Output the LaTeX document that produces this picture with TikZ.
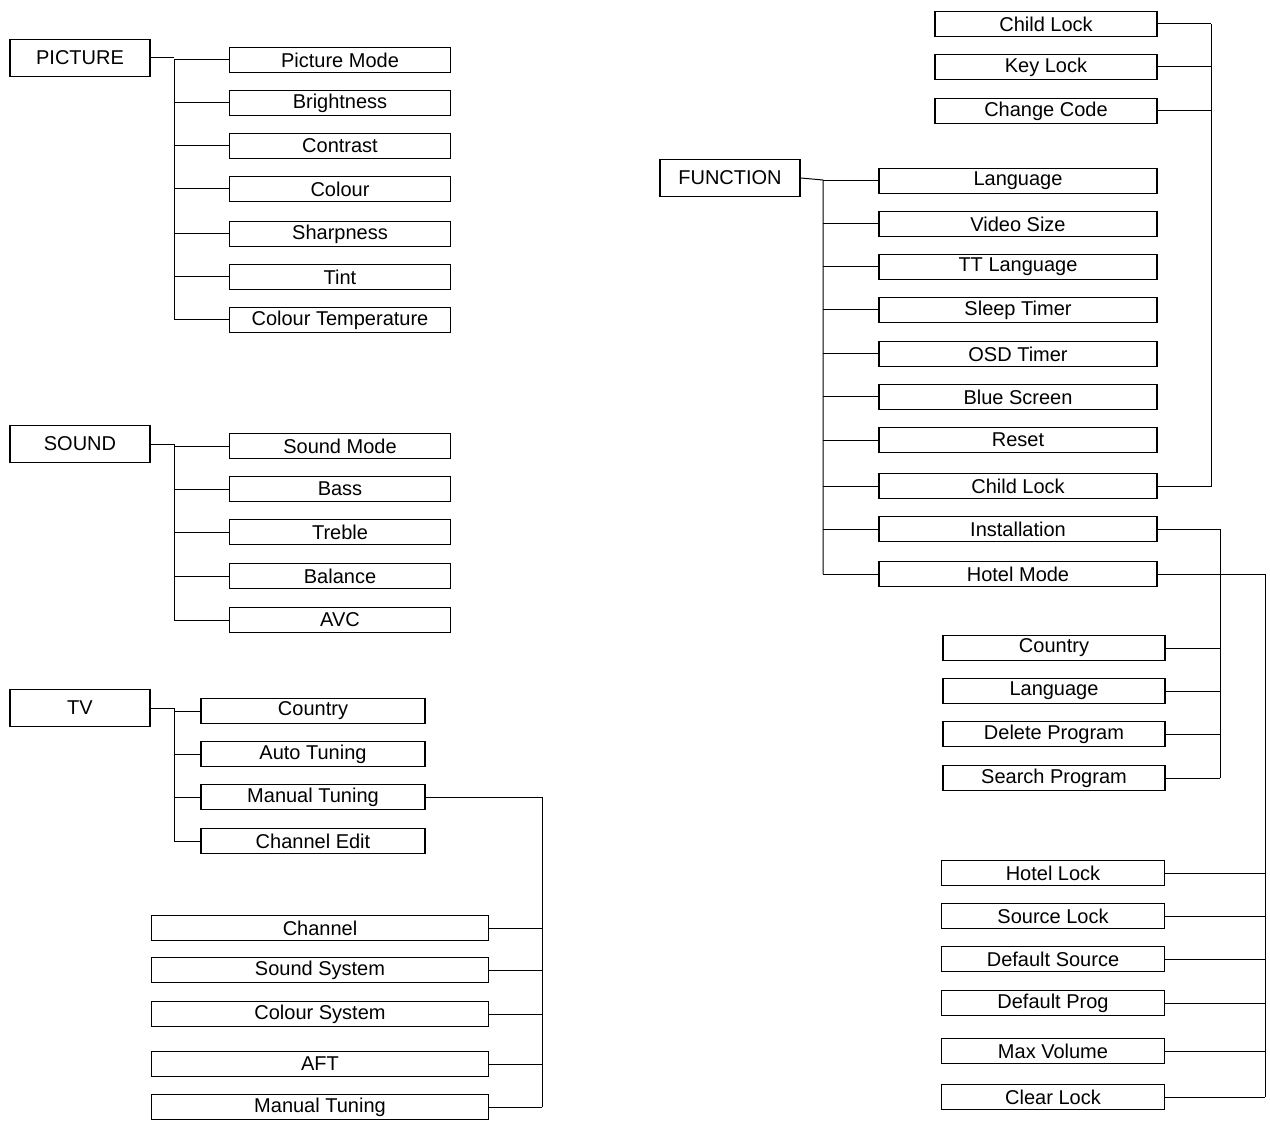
\documentclass[tikz,border=0pt]{standalone}
\usepackage{fontspec}
\setmainfont{Liberation Sans}
\begin{document}
\begin{tikzpicture}[x=1pt,y=-1pt,
  bx/.style={draw,line width=1.8pt,minimum height=25pt,inner sep=0pt,font=\fontsize{20}{22}\selectfont},
  hd/.style={draw,line width=1.6pt,minimum height=37pt,minimum width=140pt,inner sep=0pt,font=\fontsize{20}{22}\selectfont},
  ln/.style={line width=1pt}]
\useasboundingbox (0,0) rectangle (1270,1123);
% PICTURE
\node[hd] (pic) at (80,58) {PICTURE};
\foreach \t/\y [count=\i] in {Picture Mode/60,Brightness/103,Contrast/146,Colour/189,Sharpness/234,Tint/277,Colour Temperature/320}{
  \node[bx,minimum width=221pt] (p\i) at (340,\y) {\t};
  \draw[ln] (174,\y) -- (p\i.west);}
\draw[ln] (pic.east) -- (174,58) (174,60) -- (174,320);
% SOUND
\node[hd] (snd) at (80,444) {SOUND};
\foreach \t/\y [count=\i] in {Sound Mode/446,Bass/489,Treble/532,Balance/576,AVC/620}{
  \node[bx,minimum width=221pt] (s\i) at (340,\y) {\t};
  \draw[ln] (174,\y) -- (s\i.west);}
\draw[ln] (snd.east) -- (174,444) (174,444) -- (174,620);
% TV
\node[hd] (tv) at (80,708) {TV};
\foreach \t/\y [count=\i] in {Country/711,Auto Tuning/754,Manual Tuning/797,Channel Edit/841}{
  \node[bx,minimum width=224pt] (t\i) at (313,\y) {\t};
  \draw[ln] (174,\y) -- (t\i.west);}
\draw[ln] (tv.east) -- (174,708) (174,708) -- (174,841);
\draw[ln] (t3.east) -- (542,797) -- (542,1107);
\foreach \t/\y [count=\i] in {Channel/928,Sound System/970,Colour System/1014,AFT/1064,Manual Tuning/1107}{
  \node[bx,minimum width=337pt] (m\i) at (320,\y) {\t};
  \draw[ln] (m\i.east) -- (542,\y);}
% FUNCTION
\node[hd] (fn) at (730,178) {FUNCTION};
\foreach \t/\y [count=\i] in {Language/181,Video Size/224,TT Language/267,Sleep Timer/310,OSD Timer/354,Blue Screen/397,Reset/440,Child Lock/486,Installation/529,Hotel Mode/574}{
  \node[bx,minimum width=278pt] (f\i) at (1018,\y) {\t};
  \draw[ln] (823,\y) -- (f\i.west);}
\draw[ln] (fn.east) -- (823,180) (823,180) -- (823,574);
\foreach \t/\y [count=\i] in {Child Lock/24,Key Lock/67,Change Code/111}{
  \node[bx,minimum width=222pt] (c\i) at (1046,\y) {\t};
  \draw[ln] (c\i.east) -- (1211,\y);}
\draw[ln] (1211,24) -- (1211,486) -- (f8.east);
\draw[ln] (f9.east) -- (1220,529) -- (1220,778);
\foreach \t/\y [count=\i] in {Country/648,Language/691,Delete Program/734,Search Program/778}{
  \node[bx,minimum width=222pt] (i\i) at (1054,\y) {\t};
  \draw[ln] (i\i.east) -- (1220,\y);}
\draw[ln] (f10.east) -- (1265,574) -- (1265,1097);
\foreach \t/\y [count=\i] in {Hotel Lock/873,Source Lock/916,Default Source/959,Default Prog/1003,Max Volume/1051,Clear Lock/1097}{
  \node[bx,minimum width=223pt] (h\i) at (1053,\y) {\t};
  \draw[ln] (h\i.east) -- (1265,\y);}
\end{tikzpicture}
\end{document}
